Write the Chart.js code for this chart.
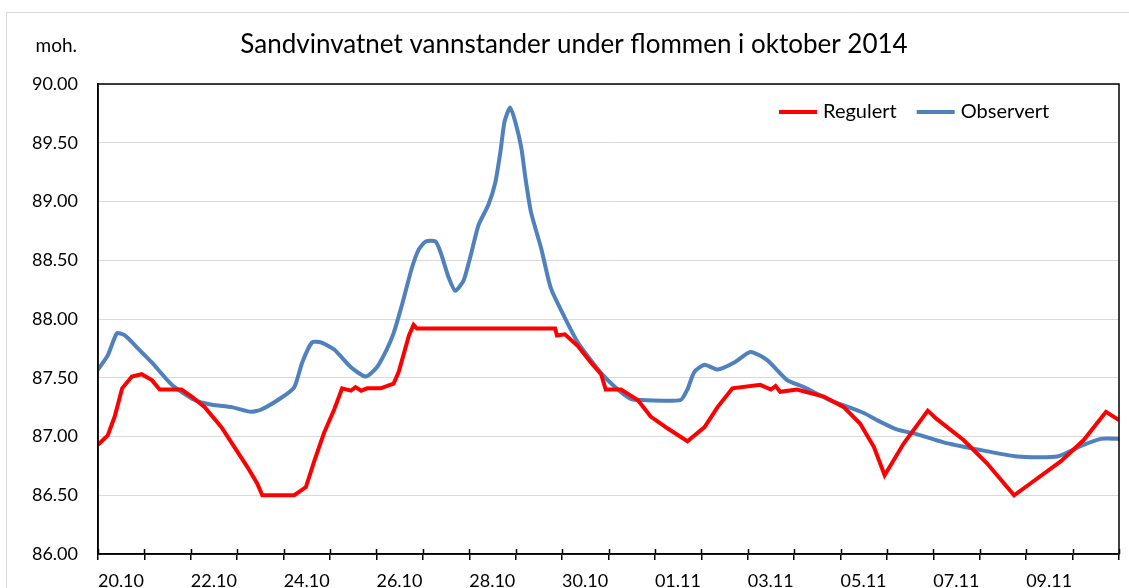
<!DOCTYPE html>
<html>
<head>
<meta charset="utf-8">
<script src="https://cdn.jsdelivr.net/npm/chart.js@4.4.1/dist/chart.umd.min.js"></script>
<style>
  html, body { margin: 0; padding: 0; background: #fff; }
  #wrap { width: 1129px; height: 588px; position: relative; }
</style>
</head>
<body>
<div id="wrap"><canvas id="chart"></canvas></div>
<script>
// day 0 = 20.10 00:00, one label every second day
const dateLabels = ['20.10', '22.10', '24.10', '26.10', '28.10', '30.10', '01.11', '03.11', '05.11', '07.11', '09.11'];

const regDays = [0, 0.21, 0.36, 0.52, 0.73, 0.94, 1.16, 1.33, 1.5, 1.8, 2.02, 2.3, 2.66, 2.94, 3.22, 3.43, 3.54,
  4.23, 4.48, 4.66, 4.87, 5.09, 5.26, 5.45, 5.55, 5.67, 5.8, 6.09, 6.37, 6.48, 6.7, 6.8, 6.87,
  9.85, 9.89, 10.06, 10.34, 10.62, 10.84, 10.94, 11.27, 11.63, 11.91, 12.27, 12.7,
  13.07, 13.35, 13.67, 14.27, 14.5, 14.6, 14.7, 15.06, 15.64, 16.07, 16.42, 16.72, 16.95,
  17.36, 17.88, 18.07, 18.65, 19.16, 19.74, 20.09, 20.75, 21.24, 21.72, 22.0];
const regVals = [86.93, 87.01, 87.17, 87.41, 87.51, 87.53, 87.48, 87.4, 87.4, 87.4, 87.34, 87.25, 87.08, 86.91, 86.74, 86.6, 86.5,
  86.5, 86.57, 86.79, 87.03, 87.23, 87.41, 87.39, 87.42, 87.39, 87.41, 87.41, 87.45, 87.55, 87.86, 87.95, 87.92,
  87.92, 87.86, 87.87, 87.77, 87.63, 87.53, 87.4, 87.4, 87.31, 87.17, 87.07, 86.96,
  87.08, 87.25, 87.41, 87.44, 87.4, 87.43, 87.38, 87.4, 87.34, 87.25, 87.11, 86.91, 86.67,
  86.94, 87.22, 87.15, 86.97, 86.77, 86.5, 86.6, 86.79, 86.97, 87.21, 87.14];

const obsDays = [0, 0.21, 0.41, 0.58, 0.86, 1.16, 1.59, 2.08, 2.45, 2.88, 3.3, 3.52, 3.95, 4.23, 4.4, 4.61, 4.81,
  5.09, 5.45, 5.77, 6.01, 6.22, 6.37, 6.55, 6.76, 6.91, 7.06, 7.27, 7.38, 7.55, 7.7, 7.88, 8.03, 8.2,
  8.41, 8.56, 8.67, 8.76, 8.88, 8.99, 9.12, 9.21, 9.33, 9.55, 9.76, 10.06, 10.34, 10.62, 10.84, 11.2,
  11.48, 11.7, 12.55, 12.7, 12.85, 13.07, 13.35, 13.71, 14.06, 14.42, 14.85, 15.21, 15.77, 16.5, 16.78,
  17.21, 17.64, 18.22, 18.95, 19.81, 20.67, 21.18, 21.61, 22.0];
const obsVals = [87.57, 87.69, 87.88, 87.86, 87.75, 87.63, 87.44, 87.31, 87.27, 87.25, 87.21, 87.23, 87.33, 87.42, 87.63, 87.8, 87.8,
  87.74, 87.59, 87.51, 87.59, 87.74, 87.88, 88.12, 88.43, 88.59, 88.66, 88.66, 88.57, 88.36, 88.24, 88.33, 88.54, 88.8,
  88.97, 89.16, 89.42, 89.68, 89.8, 89.68, 89.46, 89.2, 88.91, 88.6, 88.26, 88.01, 87.8, 87.65, 87.54, 87.4,
  87.32, 87.31, 87.31, 87.4, 87.55, 87.61, 87.57, 87.63, 87.72, 87.65, 87.48, 87.42, 87.31, 87.2, 87.14,
  87.06, 87.02, 86.95, 86.89, 86.83, 86.83, 86.92, 86.98, 86.98];

const FONT = 'Lato, "Open Sans", sans-serif';

function toPoints(xs, ys) {
  return xs.map((x, i) => ({ x: x, y: ys[i] }));
}

// frame, title, unit, plot border and legend drawn by hand (Excel look)
const decor = {
  id: 'decor',
  beforeDraw(chart) {
    const ctx = chart.ctx;
    ctx.save();
    ctx.fillStyle = '#fff';
    ctx.fillRect(0, 0, chart.width, chart.height);
    ctx.strokeStyle = '#d9d9d9';
    ctx.lineWidth = 1;
    ctx.beginPath();
    ctx.moveTo(6.5, chart.height);
    ctx.lineTo(6.5, 12.5);
    ctx.lineTo(chart.width, 12.5);
    ctx.stroke();
    ctx.restore();
  },
  afterDraw(chart) {
    const ctx = chart.ctx;
    const a = chart.chartArea;
    const xs = chart.scales.x;
    ctx.save();
    ctx.strokeStyle = '#000';
    ctx.lineWidth = 1.5;
    ctx.strokeRect(a.left, a.top, a.right - a.left, a.bottom - a.top);
    // tick marks cross the axis, inner half
    ctx.beginPath();
    xs.ticks.forEach(t => {
      const px = Math.round(xs.getPixelForValue(t.value)) + 0.5;
      ctx.moveTo(px, a.bottom - 5);
      ctx.lineTo(px, a.bottom);
    });
    ctx.stroke();

    ctx.fillStyle = '#000';
    ctx.textBaseline = 'middle';
    ctx.font = '26px ' + FONT;
    ctx.textAlign = 'center';
    ctx.fillText('Sandvinvatnet vannstander under flommen i oktober 2014', 574, 45);
    ctx.font = '19px ' + FONT;
    ctx.textAlign = 'right';
    ctx.fillText('moh.', 77, 46);

    // legend
    let x = a.right - 340;
    const y = 112;
    ctx.font = '20px ' + FONT;
    ctx.textAlign = 'left';
    chart.data.datasets.forEach(ds => {
      ctx.strokeStyle = ds.borderColor;
      ctx.lineWidth = 4;
      ctx.beginPath();
      ctx.moveTo(x, y);
      ctx.lineTo(x + 38, y);
      ctx.stroke();
      ctx.fillStyle = '#000';
      ctx.fillText(ds.label, x + 44, y);
      x += 44 + ctx.measureText(ds.label).width + 20;
    });
    ctx.restore();
  }
};

new Chart(document.getElementById('chart'), {
  type: 'line',
  data: {
    datasets: [
      {
        label: 'Regulert',
        data: toPoints(regDays, regVals),
        borderColor: '#ff0000',
        borderWidth: 4,
        pointRadius: 0,
        tension: 0,
        fill: false
      },
      {
        label: 'Observert',
        data: toPoints(obsDays, obsVals),
        borderColor: '#4f81bd',
        borderWidth: 4,
        pointRadius: 0,
        tension: 0.2,
        fill: false
      }
    ]
  },
  options: {
    responsive: true,
    maintainAspectRatio: false,
    animation: false,
    layout: { padding: { top: 84, right: 7, left: 0, bottom: 0 } },
    plugins: {
      legend: { display: false },
      tooltip: { enabled: false }
    },
    scales: {
      x: {
        type: 'linear',
        min: 0,
        max: 22,
        afterFit: s => { s.height = 34; },
        afterBuildTicks: s => {
          s.ticks = [];
          for (let d = 0; d <= 22; d++) s.ticks.push({ value: d });
        },
        grid: { drawOnChartArea: false, drawTicks: true, tickLength: 6, color: '#000', lineWidth: 1.5 },
        border: { color: '#000', width: 1.5 },
        ticks: {
          autoSkip: false,
          maxRotation: 0,
          padding: 10,
          labelOffset: 23,
          color: '#000',
          font: { family: FONT, size: 18 },
          callback: v => (v % 2 === 0 && dateLabels[v / 2]) ? dateLabels[v / 2] : ''
        }
      },
      y: {
        min: 86,
        max: 90,
        afterFit: s => { s.width = 98; },
        grid: { color: '#d9d9d9', lineWidth: 1, drawTicks: false },
        border: { color: '#000', width: 1.5 },
        ticks: {
          stepSize: 0.5,
          padding: 20,
          color: '#000',
          font: { family: FONT, size: 18 },
          callback: v => v.toFixed(2)
        }
      }
    }
  },
  plugins: [decor]
});
</script>
</body>
</html>
